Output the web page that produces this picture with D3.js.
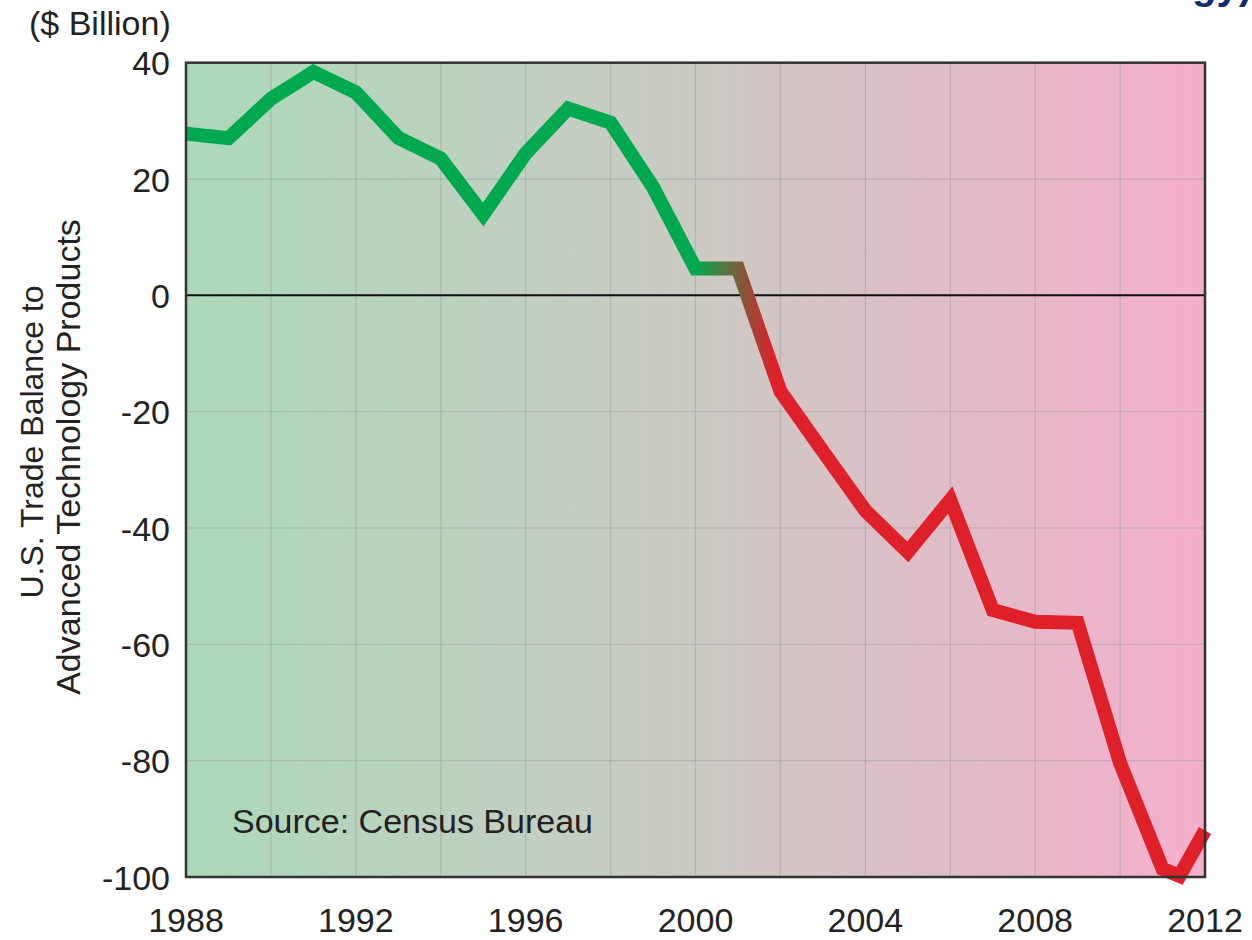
<!DOCTYPE html>
<html>
<head>
<meta charset="utf-8">
<script src="https://cdn.jsdelivr.net/npm/d3@7"></script>
<style>
  html, body { margin: 0; padding: 0; background: #fff; }
  svg { display: block; font-family: "Liberation Sans", Arial, Helvetica, sans-serif; }
</style>
</head>
<body>
<svg id="chart" width="1252" height="940"></svg>
<script>
// ---- data ----
const years  = [1988, 1989, 1990, 1991, 1992, 1993, 1994, 1995, 1996, 1997, 1998, 1999, 2000,
                2001, 2002, 2003, 2004, 2005, 2006, 2007, 2008, 2009, 2010, 2011, 2011.4, 2012];
const balance = [27.8, 27.0, 33.8, 38.4, 34.9, 27.1, 23.5, 13.9, 24.4, 32.1, 29.7, 18.6, 4.6,
                 4.6, -16.5, -26.8, -37.0, -44.1, -35.2, -54.1, -56.1, -56.3, -80.4, -98.6, -99.8, -92.0];
const xTickLabels = [1988, 1992, 1996, 2000, 2004, 2008, 2012];
const xGridYears  = [1990, 1992, 1994, 1996, 1998, 2000, 2002, 2004, 2006, 2008, 2010];
const yTickLabels = [40, 20, 0, -20, -40, -60, -80, -100];
const unitLabel = "($ Billion)";
const yTitle = ["U.S. Trade Balance to", "Advanced Technology Products"];
const sourceNote = "Source: Census Bureau";

// ---- layout ----
const svg = d3.select("#chart");
const pLeft = 186, pRight = 1205, pTop = 62.7, pBottom = 877;
const x = d3.scaleLinear().domain([1988, 2012]).range([pLeft, pRight]);
const y = d3.scaleLinear().domain([-100, 40]).range([pBottom, pTop]);

const defs = svg.append("defs");
const bg = defs.append("linearGradient").attr("id", "bgGrad")
  .attr("gradientUnits", "userSpaceOnUse")
  .attr("x1", pLeft).attr("x2", pRight).attr("y1", 0).attr("y2", 0);
bg.append("stop").attr("offset", "0%").attr("stop-color", "#acd9ba");
bg.append("stop").attr("offset", "50%").attr("stop-color", "#cbcac3");
bg.append("stop").attr("offset", "100%").attr("stop-color", "#f5afcd");

const lg = defs.append("linearGradient").attr("id", "lineGrad")
  .attr("gradientUnits", "userSpaceOnUse")
  .attr("x1", x(2000)).attr("x2", x(2001.85)).attr("y1", 0).attr("y2", 0);
lg.append("stop").attr("offset", "0%").attr("stop-color", "#00a94f");
lg.append("stop").attr("offset", "100%").attr("stop-color", "#df2029");

// top-right cut-off title fragment (only descenders visible, as in the reference)
svg.append("text").attr("x", 1252).attr("y", -1)
  .attr("text-anchor", "end").attr("font-size", 40).attr("font-weight", "bold")
  .attr("fill", "#0b2d6e").text("Technology)");

// plot background
svg.append("rect").attr("x", pLeft).attr("y", pTop)
  .attr("width", pRight - pLeft).attr("height", pBottom - pTop)
  .attr("fill", "url(#bgGrad)");

// grid
svg.append("g").selectAll("line").data(xGridYears).join("line")
  .attr("x1", d => x(d)).attr("x2", d => x(d))
  .attr("y1", pTop).attr("y2", pBottom)
  .attr("stroke", "#9e9e9e").attr("stroke-opacity", 0.5).attr("stroke-width", 1.2);
svg.append("g").selectAll("line").data(yTickLabels.filter(d => d !== 0 && d !== 40 && d !== -100)).join("line")
  .attr("x1", pLeft).attr("x2", pRight)
  .attr("y1", d => y(d)).attr("y2", d => y(d))
  .attr("stroke", "#9e9e9e").attr("stroke-opacity", 0.5).attr("stroke-width", 1.2);

// zero line
svg.append("line").attr("x1", pLeft).attr("x2", pRight)
  .attr("y1", y(0)).attr("y2", y(0))
  .attr("stroke", "#111").attr("stroke-width", 2);

// data line
const pts = years.map((yr, i) => [yr, balance[i]]);
const line = d3.line().x(d => x(d[0])).y(d => y(d[1]));
svg.append("path").datum(pts)
  .attr("d", line)
  .attr("fill", "none")
  .attr("stroke", "url(#lineGrad)")
  .attr("stroke-width", 14)
  .attr("stroke-linejoin", "miter")
  .attr("stroke-miterlimit", 2);

// frame
svg.append("rect").attr("x", pLeft).attr("y", pTop)
  .attr("width", pRight - pLeft).attr("height", pBottom - pTop)
  .attr("fill", "none").attr("stroke", "#333").attr("stroke-width", 2.5);

// y tick labels
svg.append("g").selectAll("text").data(yTickLabels).join("text")
  .attr("x", 170).attr("y", d => y(d)).attr("dy", "0.37em")
  .attr("text-anchor", "end").attr("font-size", 34).attr("fill", "#222")
  .text(d => d);

// x tick labels
svg.append("g").selectAll("text").data(xTickLabels).join("text")
  .attr("x", d => x(d)).attr("y", 932)
  .attr("text-anchor", "middle").attr("font-size", 34).attr("fill", "#222")
  .text(d => d);

// unit label
svg.append("text").attr("x", 29).attr("y", 35)
  .attr("font-size", 34).attr("fill", "#222").text(unitLabel);

// y title (two lines, rotated)
svg.append("text")
  .attr("transform", "translate(43,442) rotate(-90)")
  .attr("text-anchor", "middle").attr("font-size", 32).attr("fill", "#222")
  .text(yTitle[0]);
svg.append("text")
  .attr("transform", "translate(80,457) rotate(-90)")
  .attr("text-anchor", "middle").attr("font-size", 34).attr("fill", "#222")
  .text(yTitle[1]);

// source note
svg.append("text").attr("x", 232).attr("y", 833)
  .attr("font-size", 34).attr("fill", "#222").text(sourceNote);
</script>
</body>
</html>
